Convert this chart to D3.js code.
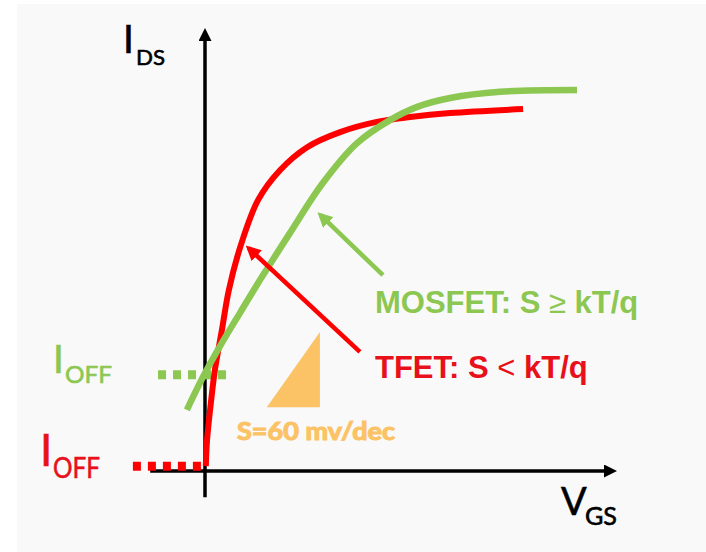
<!DOCTYPE html>
<html>
<head>
<meta charset="utf-8">
<script src="https://cdn.jsdelivr.net/npm/d3@7"></script>
<style>
  body { margin: 0; background: #fff; }
</style>
</head>
<body>
<div id="chart"></div>
<script>
// curves in plot units (x = V_GS, y = I_DS)
var tfetX = [0.2, 0.5, 1.5, 2.4, 4.1, 5.8, 8.7, 12.9, 18.2, 24.8, 32.8, 41.7, 49.8, 59.5, 77.2];
var tfetY = [1.1, 7.0, 16.0, 22.8, 31.8, 40.9, 51.0, 61.2, 67.9, 73.1, 76.5, 78.8, 79.9, 80.8, 81.7];
var mosfetX = [-4.4, -0.5, 4.1, 8.5, 12.6, 15.8, 20.6, 28.6, 36.9, 44.9, 51.5, 59.5, 71.6, 90.3];
var mosfetY = [13.8, 21.2, 28.9, 35.7, 42.0, 46.7, 53.7, 65.0, 74.0, 79.2, 82.2, 84.2, 85.6, 86.0];

// off currents: mosfet, tfet
var ioffLevel = [21.7, 1.1];
var ioffFrom = [-11.4, -17.5];
var ioffTo = [6.8, -0.5];

// 60 mV/dec slope triangle
var slopeX = [15.0, 27.9, 27.9];
var slopeY = [14.4, 14.4, 31.4];

// pointer arrows [x0, y0, x1, y1]
var tfetPointer = [37.6, 26.9, 10.6, 50.3];
var mosfetPointer = [43.2, 44.2, 28.0, 57.8];

var width = 706, height = 552;
var red = "#ff0000", redText = "#e8101a", green = "#8cc751", orange = "#fbc365";

var svg = d3.select("#chart").append("svg")
    .attr("width", width)
    .attr("height", height);

svg.append("rect")
    .attr("x", 17).attr("y", 4)
    .attr("width", width - 17).attr("height", height - 4)
    .attr("fill", "#f9f9f9");

var x = d3.scaleLinear().domain([0, 100]).range([205, 617]);
var y = d3.scaleLinear().domain([0, 100]).range([471, 28]);

var defs = svg.append("defs");
function head(id, color, len, w) {
  defs.append("marker")
      .attr("id", id)
      .attr("markerUnits", "userSpaceOnUse")
      .attr("viewBox", "0 0 " + len + " " + w)
      .attr("markerWidth", len).attr("markerHeight", w)
      .attr("refX", len - 4).attr("refY", w / 2)
      .attr("orient", "auto")
    .append("path")
      .attr("d", "M0,0L" + len + "," + (w / 2) + "L0," + w + "Z")
      .attr("fill", color);
}
head("axisHead", "#000", 13, 13);
head("redHead", red, 15, 15);
head("greenHead", green, 15, 15);

// axes
svg.append("line")
    .attr("x1", x(0)).attr("y1", y(-5.9))
    .attr("x2", x(0)).attr("y2", y(100) + 4)
    .attr("stroke", "#000").attr("stroke-width", 3.5)
    .attr("marker-end", "url(#axisHead)");
svg.append("line")
    .attr("x1", x(-13.3)).attr("y1", y(0))
    .attr("x2", x(100) - 4).attr("y2", y(0))
    .attr("stroke", "#000").attr("stroke-width", 3.5)
    .attr("marker-end", "url(#axisHead)");

// dotted off-current markers
var ioffColors = [green, red];
ioffLevel.forEach(function (lv, i) {
  svg.append("line")
      .attr("x1", x(ioffFrom[i])).attr("x2", x(ioffTo[i]))
      .attr("y1", y(lv)).attr("y2", y(lv))
      .attr("stroke", ioffColors[i])
      .attr("stroke-width", 9)
      .attr("stroke-dasharray", "8 7");
});

var line = d3.line()
    .x(function (d) { return x(d[0]); })
    .y(function (d) { return y(d[1]); })
    .curve(d3.curveCatmullRom.alpha(0.5));

svg.append("path")
    .attr("d", line(d3.zip(tfetX, tfetY)))
    .attr("fill", "none").attr("stroke", red).attr("stroke-width", 6);

svg.append("path")
    .attr("d", line(d3.zip(mosfetX, mosfetY)))
    .attr("fill", "none").attr("stroke", green).attr("stroke-width", 6.5);

// slope triangle
svg.append("path")
    .attr("d", d3.line()(d3.zip(slopeX.map(x), slopeY.map(y))) + "Z")
    .attr("fill", orange);

// pointers
svg.append("line")
    .attr("x1", x(tfetPointer[0])).attr("y1", y(tfetPointer[1]))
    .attr("x2", x(tfetPointer[2])).attr("y2", y(tfetPointer[3]))
    .attr("stroke", red).attr("stroke-width", 4.5)
    .attr("marker-end", "url(#redHead)");
svg.append("line")
    .attr("x1", x(mosfetPointer[0])).attr("y1", y(mosfetPointer[1]))
    .attr("x2", x(mosfetPointer[2])).attr("y2", y(mosfetPointer[3]))
    .attr("stroke", green).attr("stroke-width", 4.5)
    .attr("marker-end", "url(#greenHead)");

// labels
function label(txt, px, py, size, color, len) {
  var t = svg.append("text")
      .attr("x", px).attr("y", py)
      .style("font-family", "Lato, 'Open Sans', sans-serif")
      .style("font-size", size + "px")
      .style("fill", color)
      .style("stroke", color)
      .style("stroke-width", 0.6)
      .text(txt);
  if (len) t.attr("textLength", len).attr("lengthAdjust", "spacingAndGlyphs");
  return t;
}

label("I", 123, 53, 39, "#000");
label("DS", 136, 65, 22, "#000", 29);
label("V", 561, 515, 38, "#000");
label("GS", 585, 525, 25, "#000", 32);
label("I", 53, 373, 39, green);
label("OFF", 65, 383, 24, green, 47);
label("I", 40, 466, 44, redText);
label("OFF", 53, 478, 29, redText, 47);
label("S=60 mv/dec", 237, 440, 24, orange, 158)
    .style("font-weight", "bold")
    .style("stroke-width", 1.1);

function legend(first, sym, px, py, color) {
  var t = svg.append("text")
      .attr("x", px).attr("y", py)
      .style("font-family", "'Liberation Sans', Arial, sans-serif")
      .style("font-size", "31px")
      .style("font-weight", "bold")
      .style("fill", color)
      .text(first);
  t.append("tspan").style("font-weight", "normal").text(sym);
  t.append("tspan").text(" kT/q");
}
legend("MOSFET: S ", "\u2265", 375, 313, green);
legend("TFET: S ", "<", 375, 378, redText);
</script>
</body>
</html>
